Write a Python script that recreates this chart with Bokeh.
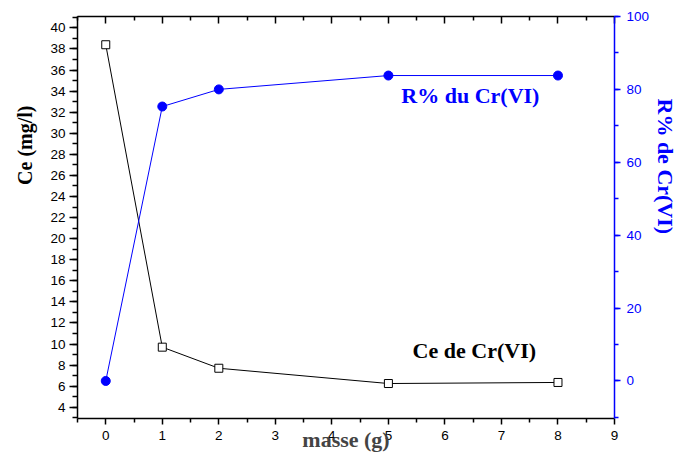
from bokeh.plotting import figure
from bokeh.models import Range1d, LinearAxis, FixedTicker, Label, ColumnDataSource, Title
from bokeh.embed import file_html
from bokeh.resources import INLINE

# Data
masse = [0, 1, 2, 5, 8]
ce = [38.4, 9.7, 7.7, 6.25, 6.35]
rpct = [0, 75.3, 80.0, 83.8, 83.8]

x_ticks = list(range(0, 10))
x_minor = [-0.5 + i for i in range(10)]
y_ticks = list(range(4, 41, 2))
y_minor = list(range(3, 42))
r_ticks = [0, 20, 40, 60, 80, 100]
r_minor = list(range(-10, 101, 10))

W, H = 679, 454
p = figure(width=W, height=H, output_backend="svg", toolbar_location=None,
           x_range=Range1d(-0.5, 9), y_range=Range1d(2.93, 41.08),
           min_border_left=77, min_border_right=64, min_border_top=16, min_border_bottom=35,
           x_axis_location=None, y_axis_location=None)
p.extra_y_ranges = {"r": Range1d(-10.3, 100)}
p.grid.visible = False
p.outline_line_color = None
p.background_fill_color = "white"

SANS = "Liberation Sans"
SERIF = "Liberation Serif"
BLUE = "#0000FF"

def style(ax, color="black"):
    ax.axis_line_color = color
    ax.axis_line_width = 1.5
    ax.major_tick_line_color = color
    ax.minor_tick_line_color = color
    ax.major_tick_line_width = 1.5
    ax.minor_tick_line_width = 1.5
    ax.major_label_text_font = SANS
    ax.major_label_text_font_size = "13.5px"
    ax.major_label_text_color = color

# bottom axis
xb = LinearAxis(ticker=FixedTicker(ticks=x_ticks, minor_ticks=x_minor))
style(xb)
xb.major_tick_out = 6; xb.major_tick_in = 0
xb.minor_tick_out = 4; xb.minor_tick_in = 0
xb.major_label_standoff = 6
xb.axis_label = "masse (g)"
xb.axis_label_text_font = SERIF
xb.axis_label_text_font_style = "bold"
xb.axis_label_text_font_size = "22px"
xb.axis_label_standoff = -16
p.add_layout(xb, "below")

# top axis
xt = LinearAxis(ticker=FixedTicker(ticks=x_ticks, minor_ticks=x_minor))
style(xt)
xt.major_tick_out = 0; xt.major_tick_in = 7
xt.minor_tick_out = 0; xt.minor_tick_in = 4
xt.major_label_text_color = None
p.add_layout(xt, "above")

# left axis
yl = LinearAxis(ticker=FixedTicker(ticks=y_ticks, minor_ticks=y_minor))
style(yl)
yl.major_tick_out = 8; yl.major_tick_in = 0
yl.minor_tick_out = 5; yl.minor_tick_in = 0
yl.major_label_standoff = 4
p.add_layout(yl, "left")

# right axis
yr = LinearAxis(y_range_name="r", ticker=FixedTicker(ticks=r_ticks, minor_ticks=r_minor))
style(yr, BLUE)
yr.major_tick_out = 6; yr.major_tick_in = 0
yr.minor_tick_out = 4; yr.minor_tick_in = 0
yr.major_label_standoff = 6
p.add_layout(yr, "right")

# axis titles placed as side titles (offset along the axis)
p.add_layout(Title(text="Ce (mg/l)", align="right", offset=89, standoff=20,
                   vertical_align="top",
                   text_font=SERIF, text_font_style="bold", text_font_size="20px",
                   text_color="black"), "left")
p.add_layout(Title(text="R% de Cr(VI)", align="left", offset=82, standoff=0,
                   text_font=SERIF, text_font_style="bold", text_font_size="22px",
                   text_color=BLUE), "right")

src = ColumnDataSource(dict(x=masse, ce=ce, r=rpct))
p.line("x", "ce", source=src, color="black", line_width=1)
p.scatter("x", "ce", source=src, marker="square", size=8, fill_color="white",
          line_color="black", line_width=1)
p.line("x", "r", source=src, color=BLUE, line_width=1, y_range_name="r")
p.scatter("x", "r", source=src, marker="circle", size=9, fill_color=BLUE,
          line_color=BLUE, y_range_name="r")

# series annotations
p.add_layout(Label(x=6.45, y=78.3, y_range_name="r", text="R% du Cr(VI)",
                   text_align="center", text_baseline="middle",
                   text_font=SERIF, text_font_style="bold", text_font_size="22px",
                   text_color=BLUE))
p.add_layout(Label(x=6.52, y=9.4, text="Ce de Cr(VI)",
                   text_align="center", text_baseline="middle",
                   text_font=SERIF, text_font_style="bold", text_font_size="22px",
                   text_color="black"))

open("out.html", "w").write(file_html(p, INLINE))
